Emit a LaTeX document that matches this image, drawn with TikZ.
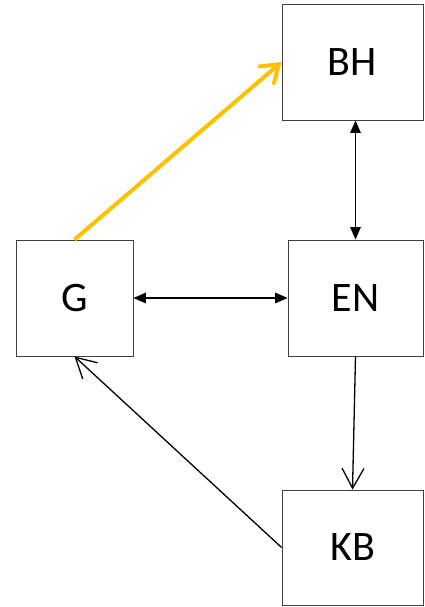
\documentclass[tikz,border=0pt]{standalone}
\usepackage{fontspec}
\setmainfont{Carlito}
\usepackage{tikz}
\usetikzlibrary{calc}
\usetikzlibrary{arrows.meta}
\tikzset{>={Triangle[width=10.5pt,length=12.5pt]}}
\definecolor{gold}{RGB}{255,192,0}

\begin{document}
\begin{tikzpicture}[
    x = 1pt, y = 1pt,
    box/.style = {draw=black!75, line width=0.8pt, inner sep=0pt,
        minimum height=116pt, font=\fontsize{42}{50}\selectfont},
    link/.style = {line width=1.4pt},
    open/.style = {line width=1.3pt, -{Straight Barb[length=20pt,width=22pt]}},
    hot/.style = {gold, line width=4pt,
        -{Straight Barb[length=16pt,width=22pt,line cap=round]}}
  ]
  \useasboundingbox (0,0) rectangle (424,-607);

  \node[box, minimum width=141pt] (BH) at (352.5,-62) {BH};
  \node[box, minimum width=117pt] (G)  at (74.5,-298) {G};
  \node[box, minimum width=135pt] (EN) at (355.5,-298) {EN};
  \node[box, minimum width=141pt, minimum height=115pt] (KB) at (352.5,-547.5) {KB};

  \draw[hot] (G.north) -- (BH.west);
  \draw[link, <->] (BH.south -| EN.north) -- (EN.north);
  \draw[link, <->] (G.east) -- (EN.west);
  \draw[open] (EN.south) -- (KB.north);
  \draw[open] (KB.west) -- (G.south);
\end{tikzpicture}
\end{document}
